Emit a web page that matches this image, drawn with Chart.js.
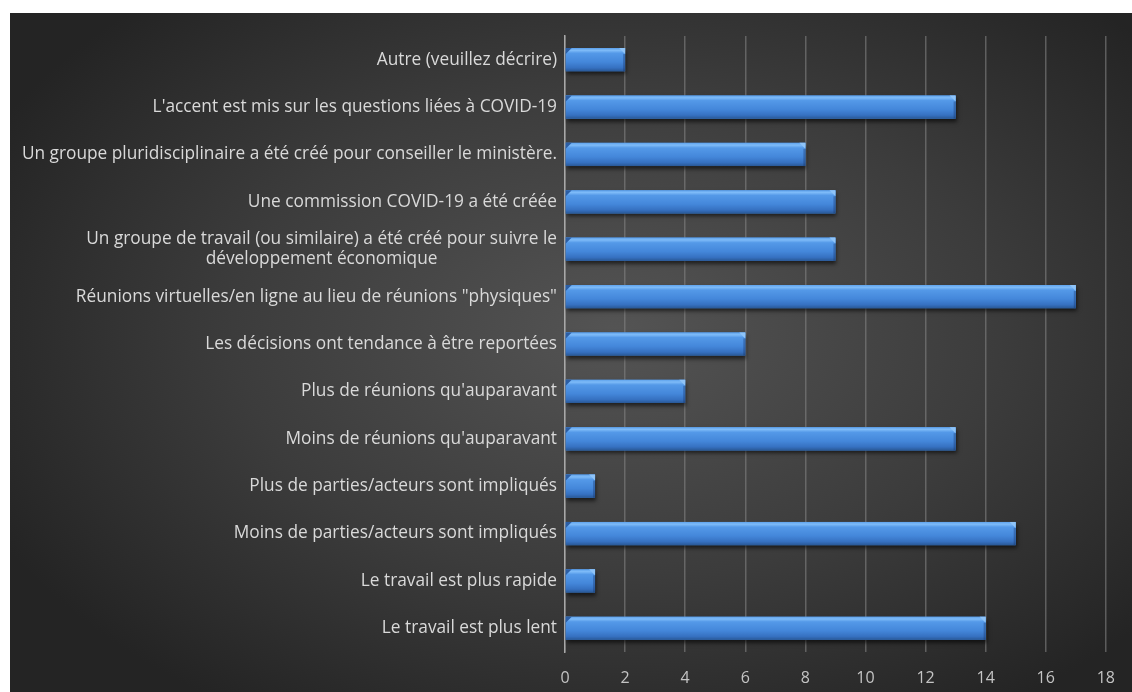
<!DOCTYPE html>
<html lang="fr">
<head>
<meta charset="utf-8">
<script src="https://cdn.jsdelivr.net/npm/chart.js@4.4.1/dist/chart.umd.min.js"></script>
<style>
  html, body { margin: 0; background: #fff; }
  #wrap { position: absolute; left: 10px; top: 13px; width: 1122px; height: 679px; }
</style>
</head>
<body>
<div id="wrap"><canvas id="chart"></canvas></div>
<script>
// catégories, de haut en bas
const categories = [
  'Autre (veuillez décrire)',
  "L'accent est mis sur les questions liées à COVID-19",
  'Un groupe pluridisciplinaire a été créé pour conseiller le ministère.',
  'Une commission COVID-19 a été créée',
  ['Un groupe de travail (ou similaire) a été créé pour suivre le', 'développement économique'],
  'Réunions virtuelles/en ligne au lieu de réunions "physiques"',
  'Les décisions ont tendance à être reportées',
  "Plus de réunions qu'auparavant",
  "Moins de réunions qu'auparavant",
  'Plus de parties/acteurs sont impliqués',
  'Moins de parties/acteurs sont impliqués',
  'Le travail est plus rapide',
  'Le travail est plus lent'
];
const counts = [2, 13, 8, 9, 9, 17, 6, 4, 13, 1, 15, 1, 14];
const axisMax = 18;
const axisStep = 2;

const labelFont = '17.3px "Open Sans"';

// fond sombre en dégradé radial
const backdrop = {
  id: 'backdrop',
  beforeDraw(chart) {
    const {ctx, width, height} = chart;
    const cx = width * 0.54, cy = height * 0.47;
    const rx = width * 0.62, ry = height * 0.66;
    const sx = rx / ry;
    ctx.save();
    ctx.translate(cx, cy);
    ctx.scale(sx, 1);
    const g = ctx.createRadialGradient(0, 0, 0, 0, 0, ry);
    g.addColorStop(0, '#545454');
    g.addColorStop(0.55, '#3c3c3c');
    g.addColorStop(1, '#242424');
    ctx.fillStyle = g;
    ctx.fillRect(-cx / sx, -cy, width / sx, height);
    ctx.restore();
  }
};

// barres en relief : ombre, dégradé vertical, biseau au bout
const glossyBars = {
  id: 'glossyBars',
  beforeDatasetsDraw(chart) {
    const ctx = chart.ctx;
    ctx.save();
    ctx.shadowColor = 'rgba(0,0,0,0.6)';
    ctx.shadowBlur = 4;
    ctx.shadowOffsetX = 1;
    ctx.shadowOffsetY = 3;
  },
  afterDatasetsDraw(chart) {
    const ctx = chart.ctx;
    ctx.restore();
    ctx.save();
    chart.getDatasetMeta(0).data.forEach(bar => {
      const {x, y, base, height} = bar.getProps(['x', 'y', 'base', 'height'], true);
      const top = y - height / 2, bot = y + height / 2;
      const g = ctx.createLinearGradient(0, top, 0, bot);
      g.addColorStop(0, '#5ea2ec');
      g.addColorStop(0.1, '#7ebbf8');
      g.addColorStop(0.22, '#5499e8');
      g.addColorStop(0.6, '#4487da');
      g.addColorStop(0.85, '#3671c1');
      g.addColorStop(1, '#295896');
      ctx.fillStyle = g;
      ctx.fillRect(base, top, x - base, height);
      const b = Math.min(6, (x - base) / 2);
      // biseau clair en haut à droite
      ctx.fillStyle = '#8fc4f8';
      ctx.beginPath();
      ctx.moveTo(x - b, top);
      ctx.lineTo(x, top + b);
      ctx.lineTo(x, top);
      ctx.closePath();
      ctx.fill();
      // bout droit un peu plus sombre
      ctx.fillStyle = 'rgba(20,50,100,0.35)';
      ctx.fillRect(x - 2, top + b, 2, height - b);
      // coin gauche sombre
      ctx.fillStyle = '#2c5ea4';
      ctx.beginPath();
      ctx.moveTo(base, top);
      ctx.lineTo(base + b, top);
      ctx.lineTo(base, top + b);
      ctx.closePath();
      ctx.fill();
    });
    ctx.restore();
  }
};

// libellés de gauche, centrés ligne par ligne quand ils sont sur deux lignes
const sideLabels = {
  id: 'sideLabels',
  afterDraw(chart) {
    const {ctx, chartArea} = chart;
    const yScale = chart.scales.y;
    const right = chartArea.left - 8;
    const lh = 19.5;
    ctx.save();
    ctx.font = labelFont;
    ctx.fillStyle = '#d9d9d9';
    ctx.textBaseline = 'middle';
    ctx.textAlign = 'center';
    categories.forEach((label, i) => {
      const lines = [].concat(label);
      const w = Math.max(...lines.map(l => ctx.measureText(l).width));
      const cy = yScale.getPixelForTick(i);
      lines.forEach((l, j) => {
        ctx.fillText(l, right - w / 2, cy + (j - (lines.length - 1) / 2) * lh);
      });
    });
    ctx.restore();
  }
};

new Chart(document.getElementById('chart'), {
  type: 'bar',
  data: {
    labels: categories,
    datasets: [{
      data: counts,
      backgroundColor: '#4487da',
      borderWidth: 0,
      barPercentage: 0.49,
      categoryPercentage: 1
    }]
  },
  options: {
    indexAxis: 'y',
    responsive: true,
    maintainAspectRatio: false,
    animation: false,
    layout: { padding: { top: 23, right: 22, left: 0, bottom: 0 } },
    plugins: {
      legend: { display: false },
      tooltip: { enabled: false }
    },
    scales: {
      x: {
        min: 0,
        max: axisMax,
        ticks: {
          stepSize: axisStep,
          color: '#c4c4c4',
          font: { size: 16, family: 'Open Sans' },
          padding: 17
        },
        grid: { color: 'rgba(130,130,130,0.6)', lineWidth: 1.5, drawTicks: false },
        border: { display: false },
        afterFit(scale) { scale.height = 40; }
      },
      y: {
        ticks: { display: false },
        grid: { display: false },
        border: { display: true, color: '#a8a8a8', width: 1.5 },
        afterFit(scale) { scale.width = 555; }
      }
    }
  },
  plugins: [backdrop, glossyBars, sideLabels]
});
</script>
</body>
</html>
